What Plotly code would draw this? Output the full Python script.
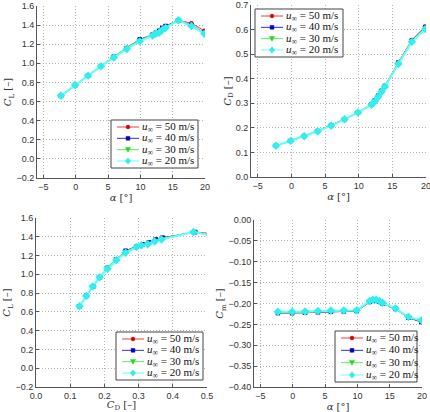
import plotly.graph_objects as go

alpha = [-2.3, -0.1, 1.9, 3.9, 5.9, 7.9, 9.9, 11.9, 12.4, 12.9, 13.4, 13.9, 15.9, 17.9, 19.9]
speeds = ["50", "40", "30", "20"]

CL = {
    "50": [0.66, 0.77, 0.87, 0.97, 1.07, 1.16, 1.25, 1.30, 1.32, 1.34, 1.37, 1.39, 1.45, 1.42, 1.34],
    "40": [0.66, 0.77, 0.87, 0.97, 1.07, 1.16, 1.25, 1.30, 1.32, 1.34, 1.37, 1.39, 1.45, 1.40, 1.32],
    "30": [0.66, 0.77, 0.87, 0.97, 1.07, 1.16, 1.24, 1.30, 1.31, 1.33, 1.36, 1.38, 1.45, 1.39, 1.32],
    "20": [0.66, 0.77, 0.87, 0.97, 1.06, 1.15, 1.23, 1.29, 1.31, 1.32, 1.35, 1.37, 1.45, 1.39, 1.31],
}
CD = {
    "50": [0.127, 0.147, 0.167, 0.187, 0.210, 0.235, 0.262, 0.296, 0.312, 0.332, 0.352, 0.372, 0.467, 0.558, 0.613],
    "40": [0.127, 0.147, 0.167, 0.187, 0.210, 0.235, 0.262, 0.295, 0.311, 0.330, 0.350, 0.370, 0.465, 0.555, 0.610],
    "30": [0.127, 0.147, 0.166, 0.186, 0.209, 0.235, 0.262, 0.295, 0.310, 0.329, 0.349, 0.369, 0.463, 0.553, 0.607],
    "20": [0.127, 0.147, 0.166, 0.186, 0.209, 0.235, 0.262, 0.294, 0.308, 0.327, 0.347, 0.367, 0.460, 0.550, 0.602],
}
CM = {
    "50": [-0.223, -0.223, -0.222, -0.221, -0.220, -0.219, -0.218, -0.197, -0.193, -0.193, -0.196, -0.200, -0.213, -0.234, -0.245],
    "40": [-0.223, -0.223, -0.222, -0.221, -0.220, -0.219, -0.218, -0.196, -0.193, -0.193, -0.196, -0.200, -0.213, -0.234, -0.244],
    "30": [-0.222, -0.222, -0.221, -0.220, -0.219, -0.218, -0.217, -0.195, -0.192, -0.192, -0.195, -0.199, -0.212, -0.233, -0.242],
    "20": [-0.220, -0.220, -0.219, -0.218, -0.217, -0.217, -0.216, -0.194, -0.191, -0.191, -0.194, -0.198, -0.212, -0.232, -0.240],
}
legend_labels = {s: "<i>u</i><sub>∞</sub> = " + s + " m/s" for s in speeds}

line_col = {"50": "#e8413c", "40": "#3333cc", "30": "#66e866", "20": "#66ffff"}
line_w = {"50": 1, "40": 1, "30": 1.5, "20": 2}
mark_col = {"50": "#d40000", "40": "#0000c8", "30": "#22dd22", "20": "#33eeee"}
mark_sym = {"50": "circle", "40": "square", "30": "triangle-down", "20": "diamond"}
mark_size = {"50": 4.5, "40": 4.5, "30": 6, "20": 6.5}

fig = go.Figure()

panels = [
    ("alpha", CL, "x", "y"),
    ("alpha", CD, "x2", "y2"),
    ("cd", CL, "x3", "y3"),
    ("alpha", CM, "x4", "y4"),
]

for xd, yd, xa, ya in panels:
    for s in speeds:
        xs = alpha if xd == "alpha" else CD[s]
        fig.add_trace(go.Scatter(
            x=xs, y=yd[s], mode="lines+markers", xaxis=xa, yaxis=ya,
            name=legend_labels[s], showlegend=False,
            line=dict(color=line_col[s], width=line_w[s]),
            marker=dict(symbol=mark_sym[s], size=mark_size[s], color=mark_col[s]),
        ))

W, H = 430, 412
def px(x):
    return x / W
def py(y):
    return 1 - y / H
def dx(a, b):
    return [px(a), px(b)]
def dy(top, bot):
    return [py(bot), py(top)]

tickfont = dict(family="Liberation Sans, Arial", size=9, color="#333333")
titlefont = dict(family="DejaVu Serif, Liberation Serif", size=10, color="#333333")

def ax(domain, anchor, rng, dtick, title, fmt=None, standoff=2):
    d = dict(domain=domain, anchor=anchor, range=rng, dtick=dtick,
             showgrid=True, gridcolor="#b4b4b4", griddash="1px,2px", gridwidth=1,
             showline=True, linecolor="#555555", linewidth=1, mirror=False,
             ticks="inside", ticklen=3, tickcolor="#555555",
             tickfont=tickfont, zeroline=False, ticklabeloverflow="allow",
             title=dict(text=title, font=titlefont, standoff=standoff),
             automargin=False)
    if fmt:
        d["tickformat"] = fmt
    return d

alpha_title = "<i>α</i> [°]"
fig.update_layout(
    width=W, height=H,
    margin=dict(l=0, r=0, t=0, b=0),
    paper_bgcolor="white", plot_bgcolor="white",
    showlegend=False,
    xaxis=ax(dx(37, 205), "y", [-6, 20], 5, alpha_title),
    yaxis=ax(dy(6, 178), "x", [-0.2, 1.6], 0.2, "<i>C</i><sub>L</sub> [–]", ".1f"),
    xaxis2=ax(dx(251, 426), "y2", [-6, 20], 5, alpha_title),
    yaxis2=ax(dy(5, 177), "x2", [0, 0.7], 0.1, "<i>C</i><sub>D</sub> [–]", ".1f"),
    xaxis3=ax(dx(36, 207), "y3", [0, 0.5], 0.1, "<i>C</i><sub>D</sub> [–]", ".1f", standoff=1),
    yaxis3=ax(dy(218, 387), "x3", [-0.2, 1.6], 0.2, "<i>C</i><sub>L</sub> [–]", ".1f"),
    xaxis4=ax(dx(254, 422), "y4", [-6, 20], 5, alpha_title, standoff=1),
    yaxis4=ax(dy(220, 387), "x4", [-0.4, 0.0], 0.05, "<i>C</i><sub>m</sub> [–]", ".2f"),
)

# Compact MATLAB-style legends (one per panel)
shapes = []
annots = []
legfont = dict(family="Liberation Serif, DejaVu Serif", size=11, color="#111111")

def marker_shape(s, cx, cy):
    c = mark_col[s]
    if s in ("50", "40"):
        r = 1.9
        return dict(type="circle" if s == "50" else "rect", xref="paper", yref="paper",
                    x0=px(cx - r), x1=px(cx + r), y0=py(cy + r), y1=py(cy - r),
                    fillcolor=c, line=dict(color=c, width=0.5))
    if s == "30":
        pts = [(cx - 2.6, cy - 2.2), (cx + 2.6, cy - 2.2), (cx, cy + 2.6)]
    else:
        pts = [(cx, cy - 3.2), (cx + 2.7, cy), (cx, cy + 3.2), (cx - 2.7, cy)]
    path = "M " + " L ".join(f"{px(a):.5f},{py(b):.5f}" for a, b in pts) + " Z"
    return dict(type="path", xref="paper", yref="paper", path=path,
                fillcolor=c, line=dict(color=c, width=0.5))

def add_legend(left, top, right, bottom):
    shapes.append(dict(type="rect", xref="paper", yref="paper",
                       x0=px(left), x1=px(right), y0=py(bottom), y1=py(top),
                       fillcolor="white", line=dict(color="#444444", width=1), layer="above"))
    step = (bottom - top - 14) / 3
    for i, s in enumerate(speeds):
        cy = top + 7 + i * step
        shapes.append(dict(type="line", xref="paper", yref="paper",
                           x0=px(left + 6), x1=px(left + 28), y0=py(cy), y1=py(cy),
                           line=dict(color=line_col[s], width=1), layer="above"))
        ms = marker_shape(s, left + 17, cy)
        ms["layer"] = "above"
        shapes.append(ms)
        annots.append(dict(xref="paper", yref="paper", x=px(left + 29), y=py(cy),
                           xanchor="left", yanchor="middle", showarrow=False,
                           text=legend_labels[s], font=legfont))

add_legend(111, 120, 198, 168)
add_legend(255, 9, 343, 57)
add_legend(116, 332, 203, 380)
add_legend(335, 331, 417, 382)

fig.update_layout(shapes=shapes, annotations=annots)

fig.write_html("out.html")
